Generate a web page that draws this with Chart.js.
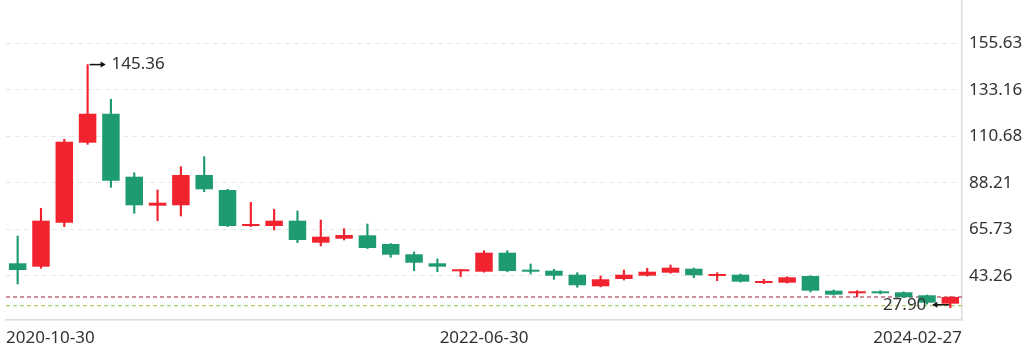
<!DOCTYPE html>
<html>
<head>
<meta charset="utf-8">
<title>K-line</title>
<script src="https://cdn.jsdelivr.net/npm/chart.js@4/dist/chart.umd.min.js"></script>
<style>
    html, body { margin: 0; padding: 0; background: #fff; }
    #wrap { width: 1024px; height: 348px; }
</style>
</head>
<body>
<div id="wrap"><canvas id="kChart" width="1024" height="348"></canvas></div>
<script>
// monthly candles
var dates = [
    '2020-10-30', '2020-11-30', '2020-12-31',
    '2021-01-29', '2021-02-26', '2021-03-31', '2021-04-30', '2021-05-31', '2021-06-30',
    '2021-07-30', '2021-08-31', '2021-09-30', '2021-10-29', '2021-11-30', '2021-12-31',
    '2022-01-28', '2022-02-28', '2022-03-31', '2022-04-29', '2022-05-31', '2022-06-30',
    '2022-07-29', '2022-08-31', '2022-09-30', '2022-10-31', '2022-11-30', '2022-12-30',
    '2023-01-31', '2023-02-28', '2023-03-31', '2023-04-28', '2023-05-31', '2023-06-30',
    '2023-07-31', '2023-08-31', '2023-09-28', '2023-10-31', '2023-11-30', '2023-12-29',
    '2024-01-31', '2024-02-27'
];
var openP = [
    49.39, 47.75, 69.00, 107.63, 121.63, 91.21, 77.21, 77.40, 92.03, 84.79,
    67.40, 67.40, 69.97, 59.34, 61.27, 62.91, 58.71, 53.74, 49.39, 45.53,
    45.33, 54.51, 46.16, 45.82, 43.89, 38.28, 41.81, 43.40, 44.85, 46.78,
    43.26, 43.89, 39.88, 40.02, 43.26, 36.16, 34.90, 35.53, 35.39, 33.94,
    29.88
];
var highP = [
    62.57, 75.95, 109.27, 145.36, 128.59, 93.14, 84.79, 96.04, 100.87, 85.10,
    78.85, 75.47, 74.65, 70.30, 66.10, 68.37, 58.90, 54.85, 51.47, 46.40,
    55.48, 55.48, 49.05, 46.50, 44.85, 43.26, 46.16, 46.98, 48.57, 47.10,
    44.85, 44.20, 41.66, 42.90, 43.40, 36.50, 36.16, 36.16, 35.60, 34.10,
    33.30
];
var lowP = [
    39.39, 46.98, 67.07, 106.86, 86.09, 73.54, 69.97, 72.23, 83.97, 67.10,
    67.10, 65.47, 59.34, 57.74, 60.64, 56.50, 52.29, 45.82, 45.33, 42.92,
    45.10, 45.30, 44.23, 41.66, 37.80, 38.00, 41.30, 43.20, 44.60, 42.44,
    40.99, 40.30, 39.60, 39.80, 35.53, 34.00, 33.26, 34.60, 32.90, 29.70,
    27.90
];
var closeP = [
    46.16, 69.97, 108.10, 121.63, 89.28, 77.40, 78.65, 92.03, 85.13, 67.40,
    68.03, 69.97, 60.64, 62.24, 63.06, 56.78, 53.54, 49.68, 47.75, 46.16,
    54.51, 45.67, 45.33, 43.40, 38.77, 41.66, 43.89, 45.33, 47.27, 43.60,
    43.89, 40.51, 40.51, 42.63, 36.16, 34.23, 35.53, 34.90, 32.97, 30.37,
    33.10
];
var yTicks = [43.26, 65.73, 88.21, 110.68, 133.16, 155.63];
var shownLabels = [0, 20, 40];
var lastCloseLine = 33.10;
var lowLine = 28.90;

var UP = '#f0232f';
var DOWN = '#1e9b6f';
var FONT = "'Noto Sans', 'Open Sans', sans-serif";

var candleColors = closeP.map(function(c, i) { return c >= openP[i] ? UP : DOWN; });

// arrows + text for the highest high and lowest low
var extremeLabels = {
    id: 'extremeLabels',
    afterDatasetsDraw: function(chart) {
        var ctx = chart.ctx;
        var xs = chart.scales.x, ys = chart.scales.y;
        var hi = highP.indexOf(Math.max.apply(null, highP));
        var lo = lowP.indexOf(Math.min.apply(null, lowP));

        function arrow(x1, y, x2) {
            var dir = x2 > x1 ? 1 : -1;
            ctx.beginPath();
            ctx.moveTo(x1, y);
            ctx.lineTo(x2, y);
            ctx.stroke();
            ctx.beginPath();
            ctx.moveTo(x2 + dir * 1, y);
            ctx.lineTo(x2 - dir * 4, y - 3);
            ctx.lineTo(x2 - dir * 4, y + 3);
            ctx.closePath();
            ctx.fill();
        }

        ctx.save();
        ctx.strokeStyle = '#111';
        ctx.fillStyle = '#111';
        ctx.lineWidth = 1.5;
        ctx.font = '17px ' + FONT;
        ctx.textBaseline = 'middle';

        var hx = xs.getPixelForValue(hi), hy = ys.getPixelForValue(highP[hi]);
        arrow(hx + 2, hy, hx + 17);
        ctx.fillStyle = '#333';
        ctx.textAlign = 'left';
        ctx.fillText(highP[hi].toFixed(2), hx + 24, hy);

        var lx = xs.getPixelForValue(lo), ly = ys.getPixelForValue(lowP[lo]) - 3;
        ctx.fillStyle = '#111';
        arrow(lx - 1, ly, lx - 17);
        ctx.fillStyle = '#333';
        ctx.textAlign = 'right';
        ctx.fillText(lowP[lo].toFixed(2), lx - 24, ly);
        ctx.restore();
    }
};

window.onload = function() {
    var ctx = document.getElementById('kChart').getContext('2d');
    var kChart = new Chart(ctx, {
        type: 'bar',
        data: {
            labels: dates,
            datasets: [{
                label: 'body',
                data: openP.map(function(o, i) { return [o, closeP[i]]; }),
                backgroundColor: candleColors,
                borderWidth: 0,
                grouped: false,
                barPercentage: 0.75,
                categoryPercentage: 1,
                minBarLength: 2,
                xAxisID: 'x',
                order: 1
            }, {
                label: 'wick',
                data: lowP.map(function(l, i) { return [l, highP[i]]; }),
                backgroundColor: candleColors,
                borderWidth: 0,
                grouped: false,
                barThickness: 1.5,
                xAxisID: 'x',
                order: 2
            }, {
                type: 'line',
                label: 'last',
                data: dates.map(function() { return lastCloseLine; }),
                borderColor: '#9b2335',
                borderWidth: 1.2,
                borderDash: [4, 3],
                pointRadius: 0,
                xAxisID: 'x2',
                order: 3
            }, {
                type: 'line',
                label: 'low',
                data: dates.map(function() { return lowLine; }),
                borderColor: '#a8cf6a',
                borderWidth: 1.2,
                borderDash: [4, 3],
                pointRadius: 0,
                xAxisID: 'x2',
                order: 3
            }]
        },
        options: {
            responsive: false,
            animation: false,
            layout: { padding: { left: 6, top: 0, right: 0, bottom: 0 } },
            plugins: {
                legend: { display: false },
                tooltip: { enabled: false }
            },
            scales: {
                x: {
                    type: 'category',
                    offset: true,
                    display: false
                },
                x2: {
                    type: 'category',
                    position: 'bottom',
                    offset: false,
                    afterFit: function(s) {
                        s.height = 28;
                        s.paddingLeft = 0;
                        s.paddingRight = 0;
                    },
                    grid: {
                        color: function(c) { return c.index === 0 ? '#dcdcdc' : 'rgba(0,0,0,0)'; },
                        lineWidth: 1.5,
                        drawTicks: false
                    },
                    border: { color: '#dcdcdc', width: 1.5 },
                    ticks: {
                        autoSkip: false,
                        maxRotation: 0,
                        align: 'inner',
                        padding: 8,
                        color: '#333',
                        font: { family: FONT, size: 17 },
                        callback: function(v, i) { return shownLabels.indexOf(i) >= 0 ? dates[i] : ''; }
                    }
                },
                y: {
                    position: 'right',
                    min: 22.0,
                    max: 176.55,
                    afterBuildTicks: function(s) {
                        s.ticks = yTicks.map(function(v) { return { value: v }; });
                    },
                    afterFit: function(s) {
                        s.width = 62;
                        s.paddingTop = 0;
                        s.paddingBottom = 0;
                    },
                    grid: { color: '#e8e8e8', lineWidth: 1, drawTicks: false },
                    border: { color: '#dcdcdc', width: 1.5, dash: [5, 4] },
                    ticks: {
                        padding: 7,
                        color: '#333',
                        font: { family: FONT, size: 17 },
                        callback: function(v) { return Number(v).toFixed(2); }
                    }
                }
            }
        },
        plugins: [extremeLabels]
    });
};
</script>
</body>
</html>
